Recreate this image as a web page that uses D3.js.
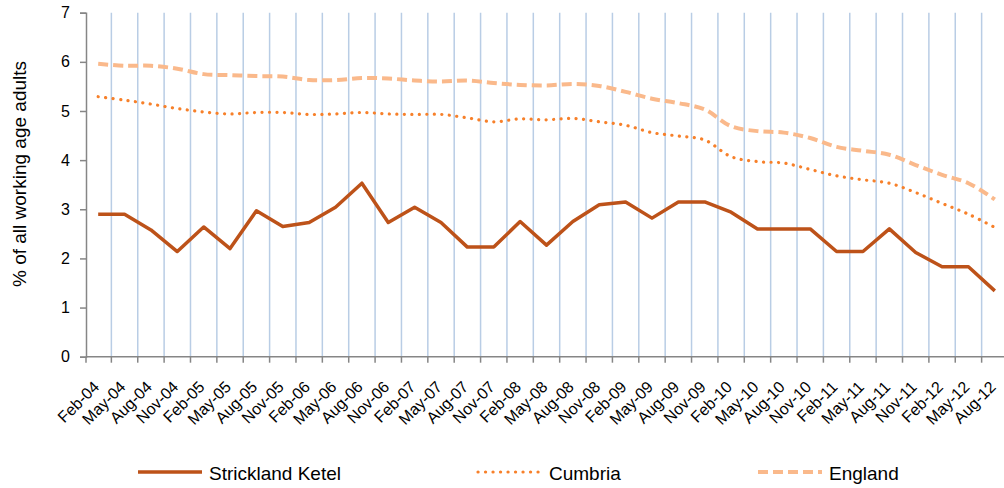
<!DOCTYPE html>
<html>

<head>
    <meta charset="UTF-8">
    <style>
        body { margin: 0; background: #fff; }
        svg { font-family: "Liberation Sans", Arial, sans-serif; }
    </style>
    <script src="https://d3js.org/d3.v7.min.js"></script>
</head>

<body>
    <svg></svg>

    <script>
        let width = 1004, height = 488;

        // quarterly categories
        let quarters = ["Feb-04", "May-04", "Aug-04", "Nov-04", "Feb-05", "May-05", "Aug-05", "Nov-05",
            "Feb-06", "May-06", "Aug-06", "Nov-06", "Feb-07", "May-07", "Aug-07", "Nov-07",
            "Feb-08", "May-08", "Aug-08", "Nov-08", "Feb-09", "May-09", "Aug-09", "Nov-09",
            "Feb-10", "May-10", "Aug-10", "Nov-10", "Feb-11", "May-11", "Aug-11", "Nov-11",
            "Feb-12", "May-12", "Aug-12"];

        let strickland = [2.90, 2.90, 2.58, 2.14, 2.64, 2.20, 2.97, 2.65, 2.73, 3.04, 3.53, 2.73,
            3.04, 2.73, 2.23, 2.23, 2.75, 2.27, 2.75, 3.09, 3.15, 2.82, 3.15, 3.15,
            2.94, 2.60, 2.60, 2.60, 2.14, 2.14, 2.60, 2.12, 1.83, 1.83, 1.34];

        let cumbria = [5.29, 5.22, 5.14, 5.05, 4.98, 4.94, 4.97, 4.97, 4.93, 4.94, 4.97, 4.94,
            4.93, 4.93, 4.86, 4.78, 4.84, 4.82, 4.85, 4.78, 4.71, 4.56, 4.49, 4.41,
            4.07, 3.97, 3.94, 3.81, 3.68, 3.60, 3.53, 3.34, 3.12, 2.90, 2.63];

        let england = [5.96, 5.92, 5.92, 5.86, 5.75, 5.73, 5.71, 5.70, 5.63, 5.63, 5.67, 5.66,
            5.62, 5.60, 5.62, 5.57, 5.53, 5.52, 5.55, 5.51, 5.39, 5.25, 5.16, 5.03,
            4.69, 4.59, 4.56, 4.45, 4.27, 4.19, 4.11, 3.90, 3.70, 3.53, 3.20];

        let yTicks = [0, 1, 2, 3, 4, 5, 6, 7];

        let svg = d3.select("svg")
            .attr("width", width)
            .attr("height", height);

        let plotLeft = 85, plotRight = 1008, plotTop = 12.7, plotBottom = 356.7;

        let x = d3.scaleBand().domain(quarters).range([plotLeft, plotRight]).padding(0);
        let y = d3.scaleLinear().domain([0, 7]).range([plotBottom, plotTop]);
        let cx = d => x(d) + x.bandwidth() / 2;

        // vertical gridlines at category boundaries
        svg.append("g")
            .selectAll("line")
            .data(quarters.slice(1))
            .enter()
            .append("line")
            .attr("x1", d => x(d))
            .attr("x2", d => x(d))
            .attr("y1", y(7))
            .attr("y2", y(0))
            .attr("stroke", "#b9cde5")
            .attr("stroke-width", 1.5);

        // y axis
        let yAxis = svg.append("g")
            .attr("transform", "translate(86,0)")
            .call(d3.axisLeft(y).tickValues(yTicks).tickSize(6).tickPadding(10).tickFormat(d3.format("d")));
        yAxis.select(".domain").attr("stroke", "#868686").attr("stroke-width", 1.5);
        yAxis.selectAll(".tick line").attr("stroke", "#868686").attr("stroke-width", 1.5);
        yAxis.selectAll(".tick text").attr("font-size", "16px").attr("fill", "#000")
            .attr("font-family", "Liberation Sans, Arial, sans-serif");

        // x axis line and boundary ticks
        svg.append("line")
            .attr("x1", 86).attr("x2", plotRight)
            .attr("y1", y(0)).attr("y2", y(0))
            .attr("stroke", "#868686").attr("stroke-width", 1.5);

        svg.append("g")
            .selectAll("line")
            .data(quarters)
            .enter()
            .append("line")
            .attr("x1", d => x(d) + (d == quarters[0] ? 1 : 0))
            .attr("x2", d => x(d) + (d == quarters[0] ? 1 : 0))
            .attr("y1", y(0))
            .attr("y2", y(0) + 6)
            .attr("stroke", "#868686")
            .attr("stroke-width", 1.5);

        // rotated category labels
        svg.append("g")
            .selectAll("text")
            .data(quarters)
            .enter()
            .append("text")
            .attr("transform", d => "translate(" + (cx(d) + 2) + "," + 388 + ") rotate(-45)")
            .attr("text-anchor", "end")
            .attr("font-size", "16px")
            .text(d => d);

        // y axis title
        svg.append("text")
            .attr("transform", "translate(26,174) rotate(-90)")
            .attr("text-anchor", "middle")
            .attr("font-size", "19px")
            .text("% of all working age adults");

        // lines
        let straight = d3.line().x((d, i) => cx(quarters[i])).y(d => y(d));
        let smooth = d3.line().x((d, i) => cx(quarters[i])).y(d => y(d)).curve(d3.curveCatmullRom.alpha(0.5));

        svg.append("path")
            .datum(england)
            .attr("d", smooth)
            .attr("fill", "none")
            .attr("stroke", "#fab98b")
            .attr("stroke-width", 4)
            .attr("stroke-dasharray", "10,5");

        svg.append("path")
            .datum(cumbria)
            .attr("d", smooth)
            .attr("fill", "none")
            .attr("stroke", "#f7802a")
            .attr("stroke-width", 3.2)
            .attr("stroke-linecap", "round")
            .attr("stroke-dasharray", "0.1,7.4");

        svg.append("path")
            .datum(strickland)
            .attr("d", straight)
            .attr("fill", "none")
            .attr("stroke", "#bd5219")
            .attr("stroke-width", 3.5)
            .attr("stroke-linejoin", "round");

        // legend
        let legend = [
            { name: "Strickland Ketel", x: 138, color: "#bd5219", dash: null, w: 3.5, cap: "butt" },
            { name: "Cumbria", x: 478, color: "#f7802a", dash: "0.1,7.4", w: 3.2, cap: "round" },
            { name: "England", x: 758, color: "#fab98b", dash: "10,5", w: 4, cap: "butt" }
        ];

        let lg = svg.append("g")
            .selectAll("g")
            .data(legend)
            .enter()
            .append("g");

        lg.append("line")
            .attr("x1", d => d.x)
            .attr("x2", d => d.x + 64)
            .attr("y1", 472)
            .attr("y2", 472)
            .attr("stroke", d => d.color)
            .attr("stroke-width", d => d.w)
            .attr("stroke-linecap", d => d.cap)
            .attr("stroke-dasharray", d => d.dash);

        lg.append("text")
            .attr("x", d => d.x + 71)
            .attr("y", 480)
            .attr("font-size", "19px")
            .text(d => d.name);
    </script>

</body>

</html>
